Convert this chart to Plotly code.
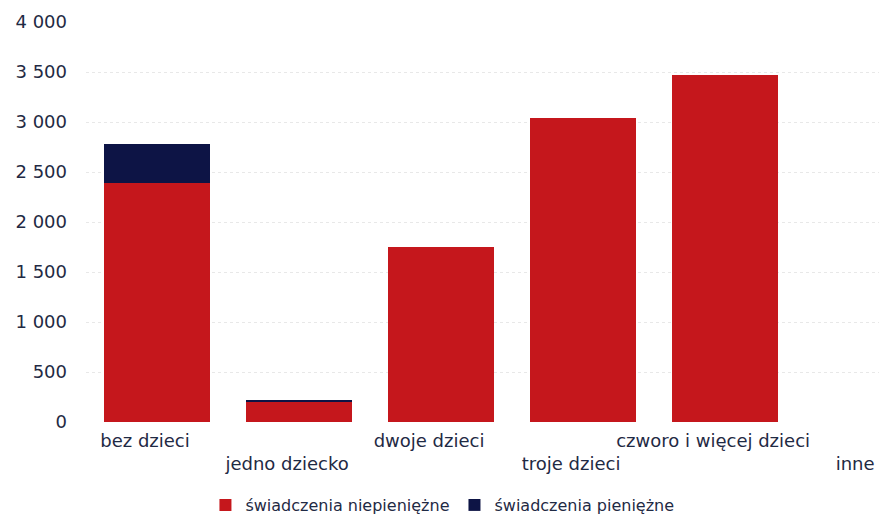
import plotly.graph_objects as go

categories = ["bez dzieci", "jedno dziecko", "dwoje dzieci", "troje dzieci", "czworo i więcej dzieci", "inne"]
niepieniezne = [2390, 200, 1750, 3040, 3470, 0]
pieniezne = [390, 15, 0, 0, 0, 0]
y_ticks = [0, 500, 1000, 1500, 2000, 2500, 3000, 3500, 4000]

positions = list(range(len(categories)))
tick_text = [c if i % 2 == 0 else "<br>" + c for i, c in enumerate(categories)]

fig = go.Figure()
fig.add_trace(go.Bar(x=positions, y=niepieniezne, name="świadczenia niepieniężne",
                     marker=dict(color="#c5171c", line=dict(width=0)), width=0.75))
fig.add_trace(go.Bar(x=positions, y=pieniezne, name="świadczenia pieniężne",
                     marker=dict(color="#0d1445", line=dict(width=0)), width=0.75))

# page body has an 8px default margin, so the figure is sized 8px smaller
fig.update_layout(
    barmode="stack",
    width=879, height=511,
    margin=dict(l=78, r=0, t=14, b=97, autoexpand=False),
    paper_bgcolor="white", plot_bgcolor="white",
    separators=", ",
    font=dict(family="DejaVu Sans", size=18, color="#1f2a44"),
    showlegend=True,
    legend=dict(orientation="h", x=0.445, xanchor="center", y=-0.2075, yanchor="middle",
                font=dict(size=16, color="#1f2a44"), traceorder="normal"),
    xaxis=dict(tickmode="array", tickvals=positions, ticktext=tick_text, tickangle=0,
               range=[-0.5, 5.14], showgrid=False, zeroline=False, showline=False,
               ticks="", tickfont=dict(size=18), ticklabelshift=-12, ticklabelstandoff=6),
    yaxis=dict(range=[0, 4000], tickvals=y_ticks, tickformat=",d",
               showgrid=True, gridcolor="#e8e8e8", griddash="dot", gridwidth=1,
               zeroline=False, showline=False, ticks="", ticklabelstandoff=18,
               tickfont=dict(size=18)),
)

fig.write_html("out.html")
